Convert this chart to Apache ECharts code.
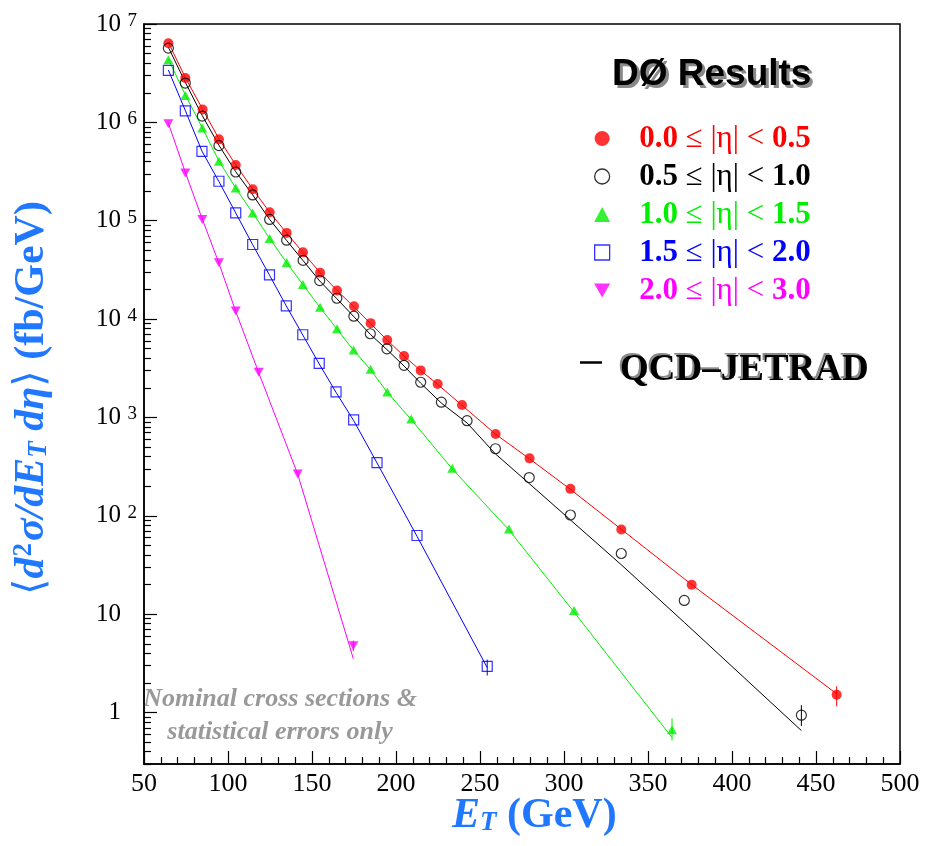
<!DOCTYPE html>
<html><head><meta charset="utf-8">
<script src="https://cdn.jsdelivr.net/npm/echarts@6/dist/echarts.min.js"></script>
<style>html,body{margin:0;padding:0;background:#fff}#c{width:925px;height:846px}</style>
</head><body><div id="c"></div>
<script>
// ---- categories ----
const etaBins = ['0.0 ≤ |η| < 0.5', '0.5 ≤ |η| < 1.0', '1.0 ≤ |η| < 1.5', '1.5 ≤ |η| < 2.0', '2.0 ≤ |η| < 3.0'];
const theoryName = 'QCD–JETRAD';

// ---- data: E_T (GeV) and cross sections (fb/GeV) ----
const etRed = [64.5,74.6,84.9,94.6,104.6,114.7,124.8,134.9,144.6,154.8,164.9,175.0,184.9,194.8,204.8,214.7,224.8,239.3,259.3,279.5,303.8,334.1,376.0,462.3];
const xsRed = [6.38e6,2.82e6,1.35e6,6.72e5,3.68e5,2.09e5,1.22e5,7.52e4,4.77e4,2.96e4,1.95e4,1.35e4,9.1e3,6.12e3,4.21e3,3.01e3,2.19e3,1.34e3,679,384,188,72.6,19.9,1.52];
const thRed = [6.5e6,2.85e6,1.36e6,6.8e5,3.7e5,2.1e5,1.22e5,7.5e4,4.75e4,2.97e4,1.95e4,1.33e4,9.0e3,6.1e3,4.2e3,3.0e3,2.17e3,1.33e3,675,380,186,73,20,1.55];

const etBlack = [64.5,74.6,84.7,94.6,104.6,114.7,124.8,134.9,144.7,154.6,164.8,174.9,184.7,194.6,204.8,214.7,227.0,242.3,259.2,279.3,303.8,334.1,371.6,441.3];
const xsBlack = [5.68e6,2.51e6,1.16e6,5.80e5,3.13e5,1.83e5,1.03e5,6.34e4,3.95e4,2.46e4,1.63e4,1.07e4,7.10e3,4.99e3,3.39e3,2.28e3,1.43e3,927,481,245,102,41.4,13.8,0.94];
const thBlack = [5.8e6,2.55e6,1.17e6,5.85e5,3.15e5,1.83e5,1.03e5,6.3e4,3.93e4,2.44e4,1.61e4,1.06e4,7.0e3,4.9e3,3.33e3,2.23e3,1.40e3,880,426,213,91,31.8,8.26,0.656];

const etGreen = [64.5,74.6,84.7,94.6,104.6,114.7,124.8,134.9,144.6,154.8,164.9,174.8,184.9,194.8,209.1,233.5,267.2,306.0,364.3];
const xsGreen = [4.33e6,1.88e6,8.75e5,4.02e5,2.15e5,1.20e5,6.59e4,3.77e4,2.25e4,1.32e4,7.97e3,4.84e3,3.10e3,1.82e3,966,305,73.3,10.9,0.67];
const thGreen = [4.4e6,1.9e6,8.8e5,4.05e5,2.15e5,1.2e5,6.6e4,3.75e4,2.24e4,1.31e4,7.9e3,4.8e3,3.05e3,1.8e3,950,300,72,10.5,0.557];

const etBlue = [64.5,74.6,84.5,94.6,104.6,114.7,124.7,134.7,144.5,154.3,164.3,174.8,188.7,212.5,254.3];
const xsBlue = [3.37e6,1.31e6,5.08e5,2.52e5,1.20e5,5.73e4,2.81e4,1.36e4,6.93e3,3.55e3,1.82e3,944,348,63.1,2.95];
const thBlue = [3.4e6,1.32e6,5.1e5,2.5e5,1.2e5,5.7e4,2.8e4,1.36e4,6.9e3,3.5e3,1.8e3,930,345,62,2.86];

const etMag = [64.5,74.6,84.7,94.6,104.6,118.3,141.5,174.6];
const xsMag = [9.70e5,3.06e5,1.03e5,3.73e4,1.21e4,2.88e3,267,4.79];
const thMag = [9.8e5,3.1e5,1.04e5,3.7e4,1.2e4,2.85e3,265,3.53];

// statistical error bars (visible only on the last points)
const errEt = [462.3, 441.3, 364.3, 254.3, 174.6];
const errLo = [1.16, 0.73, 0.52, 2.38, 4.2];
const errHi = [1.85, 1.19, 0.87, 3.45, 5.4];

// ---- tick labels ----
const xTicks = [50,100,150,200,250,300,350,400,450,500];
const yMajor = [1,10,100,1000,10000,100000,1000000,10000000];
const yMinorMant = [2,3,4,5,6,7,8,9];

// ---- styles ----
const colors = ['#ff0000','#000000','#00ee00','#0000ff','#ff00ff'];
const blue = '#1f78ff';
const serif = '"Liberation Serif","DejaVu Serif",serif';
const invTri = 'path://M0,0L20,0L10,17.3Z';

const yMinor = [];
for (let e = -1; e <= 6; e++) for (const m of yMinorMant) { const v = m * Math.pow(10, e); if (v >= 0.3 && v < 1e7) yMinor.push(+v.toPrecision(3)); }

const pts = [
  [etRed, xsRed, thRed], [etBlack, xsBlack, thBlack], [etGreen, xsGreen, thGreen],
  [etBlue, xsBlue, thBlue], [etMag, xsMag, thMag]
];
const markers = [
  {symbol:'circle', size:10, itemStyle:{color:colors[0]}},
  {symbol:'circle', size:10, itemStyle:{color:'rgba(0,0,0,0)', borderColor:colors[1], borderWidth:1.2}},
  {symbol:'triangle', size:[10,9], itemStyle:{color:colors[2]}},
  {symbol:'rect', size:10, itemStyle:{color:'rgba(0,0,0,0)', borderColor:colors[3], borderWidth:1.2}},
  {symbol:invTri, size:[10,9], itemStyle:{color:colors[4]}}
];
const legendItems = [
  {icon:'circle', itemStyle:{color:colors[0], borderWidth:0}},
  {icon:'circle', itemStyle:{color:'#fff', borderColor:'#000', borderWidth:1.3}},
  {icon:'triangle', itemStyle:{color:colors[2], borderWidth:0}},
  {icon:'path://M0,0L20,0L20,20L0,20Z', itemStyle:{color:'#fff', borderColor:colors[3], borderWidth:1.3}},
  {icon:invTri, itemStyle:{color:colors[4], borderWidth:0}}
];

const series = [];
pts.forEach((p, i) => {
  series.push({
    type:'line', name: theoryName, data: p[0].map((x, k) => [x, p[2][k]]),
    showSymbol:false, symbol:'none', lineStyle:{color:colors[i], width:1}, itemStyle:{color:'#000'},
    z: 2, silent:true
  });
});
pts.forEach((p, i) => {
  series.push({
    type:'scatter', name: etaBins[i], data: p[0].map((x, k) => [x, p[1][k]]),
    symbol: markers[i].symbol, symbolSize: markers[i].size, itemStyle: markers[i].itemStyle, z: 3
  });
});
series.push({
  type:'custom', name:'stat', z: 2,
  data: errEt.map((x, i) => [x, errLo[i], errHi[i]]),
  encode:{x:0, y:[1,2]},
  renderItem: function (params, api) {
    const a = api.coord([api.value(0), api.value(1)]);
    const b = api.coord([api.value(0), api.value(2)]);
    return {type:'line', shape:{x1:a[0], y1:a[1], x2:b[0], y2:b[1]}, style:{stroke:colors[params.dataIndex], lineWidth:1}};
  }
});

const legendRich = {};
etaBins.forEach((n, i) => {
  legendRich['f' + i] = {fontFamily:serif, fontWeight:'bold', fontSize:31, lineHeight:30, color:colors[i], padding:[0,0,0,24]};
  legendRich['b' + i] = {fontFamily:serif, fontWeight:'bold', fontSize:31, lineHeight:30, color:colors[i]};
  legendRich['r' + i] = {fontFamily:serif, fontWeight:'normal', fontSize:31, lineHeight:30, color:colors[i]};
});

function yFmt(v) {
  const e = Math.round(Math.log10(v));
  if (e >= 2) return '{b|10}{s|' + e + '}';
  if (e === 1) return '{b|10}{e| }';
  return '{b|1}{e| }';
}

const shadowTxt = (txt, x, y, font) => [
  {type:'text', x:x + 3, y:y + 3, z:1, silent:true, style:{text:txt, fill:'#8a8a8a', font:font, verticalAlign:'middle'}},
  {type:'text', x:x, y:y, z:2, silent:true, style:{text:txt, fill:'#000', font:font, verticalAlign:'middle'}}
];

const chart = echarts.init(document.getElementById('c'), null, {renderer:'canvas'});
chart.setOption({
  animation:false,
  backgroundColor:'#fff',
  grid:{left:144, right:25, top:24, bottom:82, show:true, borderColor:'#000', borderWidth:1.5, backgroundColor:'rgba(0,0,0,0)'},
  xAxis:{
    type:'value', min:50, max:500, interval:50,
    axisLine:{onZero:false, lineStyle:{color:'#000', width:1.5}},
    axisTick:{inside:true, length:13, lineStyle:{color:'#000', width:1.2}},
    minorTick:{show:true, splitNumber:5, length:7, lineStyle:{color:'#000', width:1.2}},
    axisLabel:{color:'#000', fontFamily:serif, fontSize:26, margin:7,
      formatter: v => (xTicks.indexOf(v) >= 0 ? String(v) : '')},
    splitLine:{show:false}
  },
  yAxis:[{
    type:'log', logBase:10, min:0.3, max:1e7, position:'left',
    axisLine:{show:true, lineStyle:{color:'#000', width:1.5}},
    axisTick:{show:true, inside:true, length:13, customValues:yMajor, lineStyle:{color:'#000', width:1.2}},
    axisLabel:{show:true, customValues:yMajor, margin:7, formatter:yFmt,
      rich:{
        b:{fontFamily:serif, fontSize:25, color:'#000', lineHeight:25, verticalAlign:'bottom'},
        s:{fontFamily:serif, fontSize:19, color:'#000', lineHeight:19, verticalAlign:'top', padding:[0,0,11,5], width:11},
        e:{fontFamily:serif, fontSize:19, color:'#000', lineHeight:19, verticalAlign:'top', padding:[0,0,11,5], width:11}
      }},
    splitLine:{show:false}, minorTick:{show:false}
  },{
    type:'log', logBase:10, min:0.3, max:1e7, position:'left', offset:0,
    axisLine:{show:false},
    axisTick:{show:true, inside:true, length:7, customValues:yMinor, lineStyle:{color:'#000', width:1.2}},
    axisLabel:{show:false}, splitLine:{show:false}
  }],
  legend:[{
    orient:'vertical', left:589, top:118, itemWidth:16, itemHeight:15, itemGap:7,
    selectedMode:false,
    data: etaBins.map((n, i) => Object.assign({name:n}, legendItems[i])),
    formatter: function (name) {
      const i = etaBins.indexOf(name);
      const m = name.match(/^(\S+)(.*<\s)(\S+)$/);
      return '{f' + i + '|' + m[1] + '}{r' + i + '|' + m[2] + '}{b' + i + '|' + m[3] + '}';
    },
    textStyle:{rich:legendRich}
  },{
    orient:'vertical', left:575, top:331, itemWidth:22, itemHeight:2.5, selectedMode:false,
    data:[{name:theoryName, icon:'rect', itemStyle:{color:'#000', borderWidth:0}}],
    formatter: n => '{q|' + n + '}',
    textStyle:{rich:{q:{fontFamily:serif, fontWeight:'bold', fontSize:37, lineHeight:36, color:'#000',
      padding:[16,0,0,13]}}},
    z: 5
  }],
  graphic:[
    ...shadowTxt('DØ Results', 612, 75, 'bold 37px "Liberation Sans", Arial, sans-serif'),
    {type:'text', x:618, y:368, z:1, silent:true, style:{text:theoryName, fill:'#8a8a8a',
      font:'bold 37px ' + serif, verticalAlign:'middle'}},
    {type:'text', x:280, y:716, silent:true, style:{text:'Nominal cross sections &\nstatistical errors only',
      fill:'#999', font:'italic bold 26px ' + serif, align:'center', verticalAlign:'middle', lineHeight:33}},
    {type:'text', x:452, y:795, silent:true, style:{
      text:'{e|E}{t|T}{g| (GeV)}',
      rich:{
        e:{fontFamily:serif, fontStyle:'italic', fontWeight:'bold', fontSize:42, lineHeight:42, fill:blue, verticalAlign:'top'},
        t:{fontFamily:serif, fontStyle:'italic', fontWeight:'bold', fontSize:27, lineHeight:27, fill:blue, verticalAlign:'bottom', padding:[23,0,0,0]},
        g:{fontFamily:serif, fontWeight:'bold', fontSize:42, lineHeight:42, fill:blue, verticalAlign:'top'}
      }}},
    {type:'text', x:32, y:398, rotation:Math.PI/2, silent:true, style:{
      text:'{a|⟨}{i|d}{p|2}{i|σ/dE}{t|T}{i| dη}{a|⟩}{g| (fb/GeV)}',
      align:'center', verticalAlign:'middle',
      rich:{
        a:{fontFamily:serif, fontSize:42, lineHeight:42, fill:blue, verticalAlign:'top'},
        i:{fontFamily:serif, fontStyle:'italic', fontWeight:'bold', fontSize:42, lineHeight:42, fill:blue, verticalAlign:'top'},
        p:{fontFamily:serif, fontWeight:'bold', fontSize:27, lineHeight:27, fill:blue, verticalAlign:'top', padding:[0,2,0,1]},
        t:{fontFamily:serif, fontStyle:'italic', fontWeight:'bold', fontSize:27, lineHeight:27, fill:blue, verticalAlign:'bottom', padding:[23,0,0,0]},
        g:{fontFamily:serif, fontWeight:'bold', fontSize:42, lineHeight:42, fill:blue, verticalAlign:'top'}
      }}}
  ],
  series: series
});
</script></body></html>
